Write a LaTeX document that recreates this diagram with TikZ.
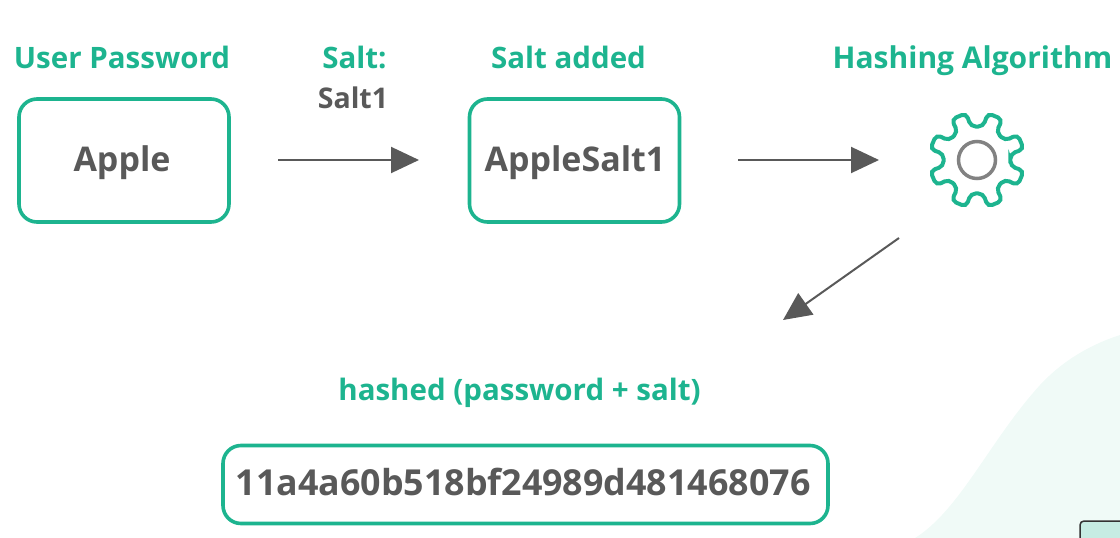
\documentclass[tikz,border=0pt]{standalone}
\usepackage{fontspec}
\setmainfont{Open Sans}
\usetikzlibrary{arrows.meta}
\definecolor{teal}{HTML}{1DB48F}
\definecolor{ink}{HTML}{595959}
\definecolor{wash}{HTML}{F0FAF7}
\tikzset{x=1pt,y=-1pt,
  box/.style={draw=teal,line width=3.6pt,rounded corners=18pt,fill=white,inner sep=0pt},
  boxtext/.style={text=ink,inner sep=0pt,anchor=base,font=\fontsize{34}{40}\selectfont\bfseries},
  head/.style={text=teal,anchor=base,font=\fontsize{29.5}{34}\selectfont\bfseries,inner sep=0pt},
  sub/.style={text=ink,anchor=base,font=\fontsize{28.5}{34}\selectfont\bfseries,inner sep=0pt},
  conn/.style={draw=ink,line width=2pt,-{Triangle[length=28pt,width=26pt,fill=ink]}}
}
\begin{document}
\begin{tikzpicture}
\useasboundingbox (0,0) rectangle (1120,538);
\fill[wash] (915,538) .. controls (960,510) and (990,440) .. (1040,385) .. controls (1065,358) and (1095,343) .. (1120,335) -- (1120,538) -- cycle;
\draw[black!80,line width=1.5pt,fill=teal!25,rounded corners=4pt] (1080,545) rectangle (1130,521);
\node[box,minimum width=210pt,minimum height=123pt] (apple) at (124,160.5) {};
\node[box,minimum width=210pt,minimum height=123pt] (salted) at (574.5,160.5) {};
\node[box,minimum width=605pt,minimum height=78pt] (hash) at (525.5,484.5) {};
\node[boxtext] (t1) at (122,171.5) {Apple};
\node[boxtext] (t2) at (575,171.5) {AppleSalt1};
\node[boxtext,font=\fontsize{35.8}{40}\selectfont\bfseries] (t3) at (523,495.5) {11a4a60b518bf24989d481468076};
\node[head] (h1) at (122,68) {User Password};
\node[head] (h2) at (354.5,68) {Salt:};
\node[sub] (s2) at (353,108) {Salt1};
\node[head] (h3) at (568.5,68) {Salt added};
\node[head,font=\fontsize{30}{34}\selectfont\bfseries] (h4) at (972.5,68.5) {Hashing Algorithm};
\node[head] (h5) at (519.5,400.5) {hashed (password + salt)};
\coordinate (gear) at (977,160);
\begin{scope}[shift={(gear)}]
\draw[teal,line width=4pt,rounded corners=5pt]
  (10.5:34)
  \foreach \k in {0,...,7} {
    -- ({22.5+45*\k-12}:34) -- ({22.5+45*\k-9.5}:48) -- ({22.5+45*\k+9.5}:48) -- ({22.5+45*\k+12}:34)
  } -- cycle;
\end{scope}
\node[draw=ink!75,line width=3.5pt,circle,minimum size=37pt,inner sep=0pt] (hub) at (gear) {};
\coordinate (a1s) at (278,160); \coordinate (a1e) at (419,160);
\coordinate (a2s) at (738,160); \coordinate (a2e) at (879,160);
\coordinate (a3s) at (899,238); \coordinate (a3e) at (783,320);
\draw[conn] (a1s) -- (a1e);
\draw[conn] (a2s) -- (a2e);
\draw[conn] (a3s) -- (a3e);
\end{tikzpicture}
\end{document}
